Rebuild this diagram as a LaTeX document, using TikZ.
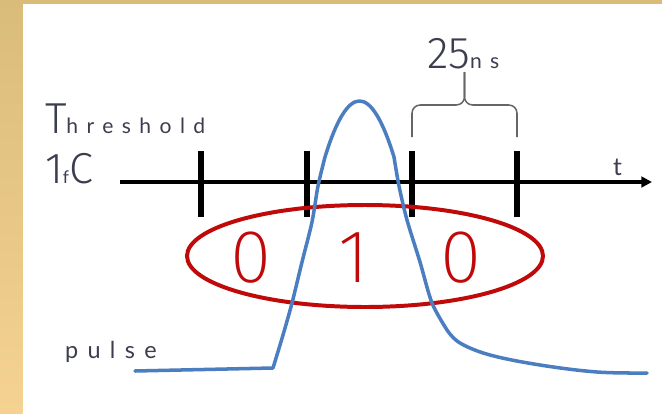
\documentclass[tikz,border=0pt]{standalone}
\usepackage{fontspec}
\setmainfont{Lato}
\newfontfamily\thinfont{Fira Sans Light}
\newfontfamily\hairfont{Fira Sans ExtraLight}
\newfontfamily\spacedfont{Lato}[LetterSpace=40]
\usepackage{xcolor}
\usepackage{tikz}
\usetikzlibrary{arrows.meta}
\usetikzlibrary{positioning}

\definecolor{goldtop}{RGB}{218,188,122}
\definecolor{goldbot}{RGB}{245,210,145}
\definecolor{pulseblue}{RGB}{74,126,193}
\definecolor{ovalred}{RGB}{192,10,10}
\definecolor{labelgray}{RGB}{60,62,80}

\begin{document}
\begin{tikzpicture}[
    x=0.03cm, y=-0.03cm,
    every node/.style={inner sep=0pt, outer sep=0pt, text=labelgray},
    axis/.style={line width=3.4pt, -{Triangle[length=9pt,width=9pt]}},
    tickmark/.style={line width=5pt},
    pulseline/.style={line width=3pt, pulseblue, line join=round, line cap=round},
    oval/.style={line width=3.4pt, ovalred},
    bracket/.style={line width=1.3pt, black!60, rounded corners=7pt},
    digit/.style={font=\hairfont\fontsize{64}{64}\selectfont, text=ovalred},
  ]

  % background
  \useasboundingbox (0,0) rectangle (662,413);
  \fill[white] (0,0) rectangle (662,413);
  \shade[top color=goldtop, bottom color=goldbot] (0,0) rectangle (22.7,413);
  \fill[goldtop] (0,0) rectangle (662,4);

  % labels
  \node[anchor=base west] (thresh) at (45,133)
    {{\thinfont\fontsize{37}{37}\selectfont T}{\spacedfont\fontsize{18}{18}\selectfont hreshold}};
  \node[anchor=base west] (charge) at (45,183)
    {{\thinfont\fontsize{37}{37}\selectfont 1}{\spacedfont\fontsize{15}{15}\selectfont f}{\thinfont\fontsize{37}{37}\selectfont C}};
  \node[anchor=base west] (period) at (427,68)
    {{\thinfont\fontsize{38}{38}\selectfont 25}{\spacedfont\fontsize{18}{18}\selectfont ns}};
  \node[anchor=base west, font=\fontsize{21}{21}\selectfont] (tlabel) at (613,175) {t};
  \node[anchor=base west, font=\spacedfont\fontsize{20}{20}\selectfont] (pulselabel) at (65,358) {pulse};

  % time axis
  \coordinate (axstart) at (120,182);
  \coordinate (axend) at (652,182);
  \draw[axis] (axstart) -- (axend);
  \foreach \tx in {201,307,412,517}
    \draw[tickmark] (\tx,151) -- (\tx,217);

  % brace over one period
  \coordinate (tip) at (464.5,72);
  \draw[bracket] (412,137) -- (412,105) -- (464.5,105) -- (tip);
  \draw[bracket] (517,137) -- (517,105) -- (464.5,105) -- (tip);

  % sampled bits
  \draw[oval] (365,256) ellipse [x radius=178, y radius=51];
  \node[digit] (bitA) at (251,258) {0};
  \node[digit] (bitB) at (354,258) {1};
  \node[digit] (bitC) at (461,258) {0};

  % pulse
  \draw[pulseline] (135,371) -- (273,368)
    plot[smooth, tension=0.5] coordinates {(273,368) (283,335) (292,303) (302,262) (312,222) (318,186) (325,157)}
    .. controls (348,82.3) and (371,82.3) .. (394,157)
    plot[smooth, tension=0.5] coordinates {(394,157) (399,186) (407,220) (420,262) (432,303) (447,330)}
    plot[smooth, tension=0.6] coordinates {(447,330) (460,343) (490,355) (540,365) (597,372) (647,373)};

\end{tikzpicture}
\end{document}
